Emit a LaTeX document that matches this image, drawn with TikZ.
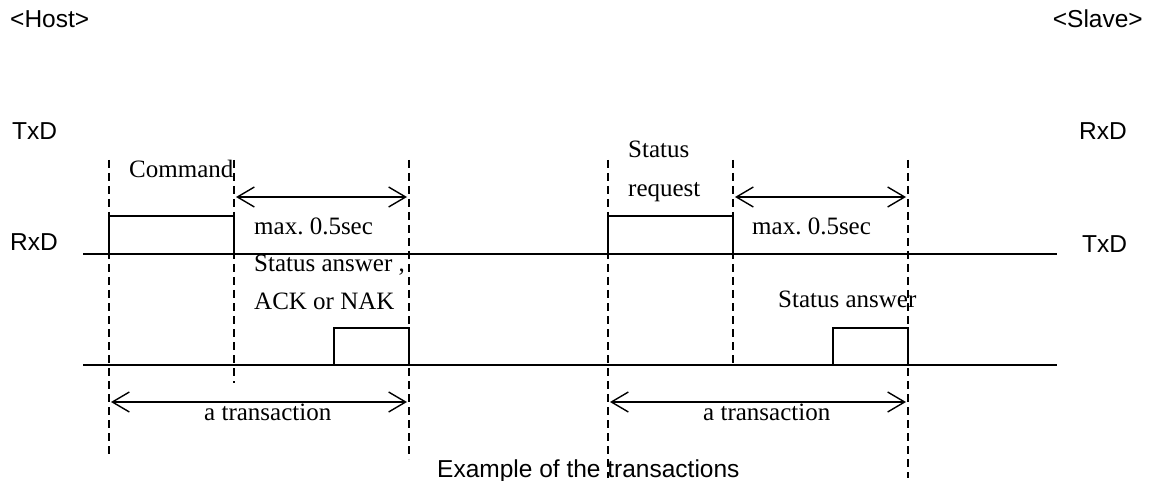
\documentclass[tikz,border=0pt]{standalone}
\usepackage{fontspec}
\setmainfont{Liberation Serif}
\newfontfamily\arialf{Liberation Sans}
\usetikzlibrary{arrows.meta}
\frenchspacing
\tikzset{
  sig/.style={line width=1.5pt},
  guide/.style={line width=1.4pt, dash pattern=on 8pt off 5pt},
  span/.style={line width=1.4pt, {Straight Barb[length=17pt,width=20pt,line width=1.4pt]}-{Straight Barb[length=17pt,width=20pt,line width=1.4pt]}},
  lbl/.style={inner sep=0pt, anchor=base west, font=\fontsize{25}{29}\selectfont},
  sans/.style={inner sep=0pt, anchor=base west, font=\arialf\fontsize{24.5}{29}\selectfont}
}
\begin{document}
\begin{tikzpicture}[x=1pt,y=-1pt]
\useasboundingbox (0,0) rectangle (1149,481);
% side labels
\node[sans] (host) at (10,28) {<Host>};
\node[sans, anchor=base east] (slave) at (1143,28) {<Slave>};
\node[sans] (txdl) at (12,140) {TxD};
\node[sans] (rxdl) at (10,251) {RxD};
\node[sans] (rxdr) at (1079,140) {RxD};
\node[sans] (txdr) at (1082,253) {TxD};
\node[sans] (title) at (437,477) {Example of the transactions};
% signal labels
\node[lbl] (cmd) at (129,178) {Command};
\node[lbl] (max1) at (254,235) {max. 0.5sec};
\node[lbl] (sa1) at (254,272) {Status answer ,};
\node[lbl] (ack) at (254,309) {ACK or NAK};
\node[lbl] (tr1) at (204,420) {a transaction};
\node[lbl] (st) at (628,158) {Status};
\node[lbl] (rq) at (628,197) {request};
\node[lbl] (max2) at (752,235) {max. 0.5sec};
\node[lbl] (sa2) at (778,308) {Status answer};
\node[lbl] (tr2) at (703,420) {a transaction};
% baseline coordinates
\coordinate (l1a) at (83,254); \coordinate (l1b) at (1057,254);
\coordinate (l2a) at (83,365); \coordinate (l2b) at (1057,365);
% guide lines
\coordinate (g1t) at (109,160); \coordinate (g1b) at (109,455);
\coordinate (g2t) at (234,160); \coordinate (g2b) at (234,383);
\coordinate (g3t) at (409,160); \coordinate (g3b) at (409,459);
\coordinate (g4t) at (608,160); \coordinate (g4b) at (608,478);
\coordinate (g5t) at (733,160); \coordinate (g5b) at (733,365);
\coordinate (g6t) at (908,160); \coordinate (g6b) at (908,478);
\draw[guide] (g1t) -- (g1b);
\draw[guide] (g2t) -- (g2b);
\draw[guide] (g3t) -- (g3b);
\draw[guide] (g4t) -- (g4b);
\draw[guide] (g5t) -- (g5b);
\draw[guide] (g6t) -- (g6b);
% signal lines
\draw[sig] (l1a) -- (l1b);
\draw[sig] (l2a) -- (l2b);
% pulses
\coordinate (p1a) at (109,254); \coordinate (p1b) at (234,216);
\coordinate (p2a) at (334,365); \coordinate (p2b) at (409,328);
\coordinate (p3a) at (608,254); \coordinate (p3b) at (733,216);
\coordinate (p4a) at (833,365); \coordinate (p4b) at (908,328);
\draw[sig] (p1a) |- (p1b) -- (p1b |- p1a);
\draw[sig] (p2a) |- (p2b) -- (p2b |- p2a);
\draw[sig] (p3a) |- (p3b) -- (p3b |- p3a);
\draw[sig] (p4a) |- (p4b) -- (p4b |- p4a);
% spans
\coordinate (m1a) at (236,197); \coordinate (m1b) at (407,197);
\coordinate (t1a) at (111,402); \coordinate (t1b) at (407,402);
\coordinate (m2a) at (735,197); \coordinate (m2b) at (906,197);
\coordinate (t2a) at (610,402); \coordinate (t2b) at (906,402);
\draw[span] (m1a) -- (m1b);
\draw[span] (t1a) -- (t1b);
\draw[span] (m2a) -- (m2b);
\draw[span] (t2a) -- (t2b);
\end{tikzpicture}
\end{document}
